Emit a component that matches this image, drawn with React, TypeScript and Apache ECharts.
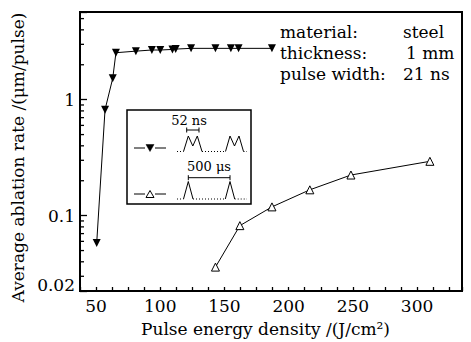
import React, { useEffect, useRef } from 'react';
import * as echarts from 'echarts';

// Series 1: 52 ns burst (filled down-triangles)
const burstX = [50.5, 57, 63, 65.5, 81, 93.5, 100, 109.5, 112, 124, 143, 155, 161, 187];
const burstY = [0.058, 0.82, 1.53, 2.54, 2.62, 2.68, 2.68, 2.71, 2.73, 2.77, 2.77, 2.77, 2.77, 2.77];
// Series 2: 500 µs single pulses (open up-triangles)
const singleX = [143, 162, 187, 216.5, 248.5, 310];
const singleY = [0.036, 0.082, 0.119, 0.167, 0.224, 0.294];

const xMin = 37.5;
const xMax = 335;
const xStep = 12.5;
const yMin = 0.0224;
const yMax = 5.7;
const yTickLabels = ['0.02', '0.1', '1'];
const yMinorTicks = [0.03, 0.04, 0.05, 0.06, 0.07, 0.08, 0.09, 0.2, 0.3, 0.4, 0.5, 0.6, 0.7, 0.8, 0.9, 2, 3, 4, 5];
const infoLabels = ['material:', 'thickness:', 'pulse width:'];
const infoValues = ['steel', '1 mm', '21 ns'];
const legendTexts = ['52 ns', '500 μs'];
const xName = 'Pulse energy density /(J/cm²)';
const yName = 'Average ablation rate /(μm/pulse)';

const FONT = "'DejaVu Serif', serif";

export default function App() {
  const ref = useRef<HTMLDivElement>(null);
  useEffect(() => {
    document.body.style.margin = '0';
    const chart = echarts.init(ref.current!, null, { renderer: 'svg' });
    const option: any = {
      animation: false,
      backgroundColor: '#fff',
      grid: { left: 80, right: 9, top: 12, bottom: 49, show: true, borderColor: '#000', borderWidth: 2 },
      xAxis: {
        type: 'value', min: xMin, max: xMax, interval: xStep,
        name: xName, nameLocation: 'middle', nameGap: 29,
        nameTextStyle: { fontFamily: FONT, fontSize: 17, color: '#000', padding: [0, 11, 0, 0] },
        axisLine: { lineStyle: { color: '#000', width: 2 } },
        axisTick: { inside: true, length: 4, lineStyle: { color: '#000', width: 1.3 } },
        splitLine: { show: false },
        axisLabel: {
          fontFamily: FONT, fontSize: 17, color: '#000', margin: 6,
          formatter: (v: number) => (Math.abs(v % 50) < 1e-9 ? String(v) : ''),
        },
      },
      yAxis: {
        type: 'log', logBase: 10, min: yMin, max: yMax,
        name: yName, nameLocation: 'middle', nameGap: 45,
        nameTextStyle: { fontFamily: FONT, fontSize: 17, color: '#000', padding: [0, 12, 0, 0] },
        axisLine: { lineStyle: { color: '#000', width: 2 } },
        axisTick: { inside: true, length: 7, lineStyle: { color: '#000', width: 1.3 } },
        splitLine: { show: false },
        minorTick: { show: false },
        axisLabel: {
          fontFamily: FONT, fontSize: 17, color: '#000', margin: 5,
          showMinLabel: true, showMaxLabel: true,
          formatter: (v: number) => {
            if (Math.abs(v - yMin) < 1e-6) return '{low|' + yTickLabels[0] + '}';
            if (Math.abs(v - 0.1) < 1e-9) return yTickLabels[1];
            if (Math.abs(v - 1) < 1e-9) return yTickLabels[2];
            return '';
          },
          rich: { low: { fontFamily: FONT, fontSize: 17, color: '#000', padding: [0, 0, 12, 0] } },
        },
      },
      series: [
        {
          name: legendTexts[0], type: 'line',
          data: burstX.map((x, i) => [x, burstY[i]]),
          symbol: 'triangle', symbolRotate: 180, symbolSize: 8,
          lineStyle: { color: '#000', width: 1 },
          itemStyle: { color: '#000' },
        },
        {
          name: legendTexts[1], type: 'line',
          data: singleX.map((x, i) => [x, singleY[i]]),
          symbol: 'triangle', symbolSize: 8,
          lineStyle: { color: '#000', width: 1 },
          itemStyle: { color: '#fff', borderColor: '#000', borderWidth: 1 },
        },
      ],
    };
    chart.setOption(option);

    const gx = chart.convertToPixel({ xAxisIndex: 0 }, xMin) as number;
    const tickEls = yMinorTicks.map((v) => {
      const y = chart.convertToPixel({ yAxisIndex: 0 }, v) as number;
      return {
        type: 'line', silent: true,
        shape: { x1: gx, y1: y, x2: gx + 4, y2: y },
        style: { stroke: '#000', lineWidth: 1.3 },
      };
    });

    const solid = { stroke: '#000', lineWidth: 1, fill: 'none' };
    const dotted = { stroke: '#000', lineWidth: 1, lineDash: [1, 2], fill: 'none' };
    const line = (x1: number, y1: number, x2: number, y2: number, style: any = solid) => ({
      type: 'line', silent: true, shape: { x1, y1, x2, y2 }, style,
    });
    const poly = (points: number[][]) => ({ type: 'polyline', silent: true, shape: { points }, style: solid });

    const b1 = 151.5, p1 = 136, v1 = 146;
    const b2 = 199, p2 = 181.5;

    const legendEls: any[] = [
      { type: 'rect', z: 10, shape: { x: 127, y: 110, width: 124, height: 94 }, style: { fill: '#fff', stroke: '#000', lineWidth: 1.5 } },
      // row 1 icon
      line(134, 148, 145, 148), line(155, 148, 166, 148),
      { type: 'polygon', z: 11, shape: { points: [[146, 144.5], [154, 144.5], [150, 151.5]] }, style: { fill: '#000', stroke: '#000', lineWidth: 0.5 } },
      // row 2 icon
      line(134, 194, 145, 194), line(155, 194, 166, 194),
      { type: 'polygon', z: 11, shape: { points: [[146, 197.5], [154, 197.5], [150, 190.5]] }, style: { fill: '#fff', stroke: '#000', lineWidth: 1 } },
      // row 1 pulses
      poly([[183.5, b1], [188.3, p1], [192.8, v1], [197.3, p1], [202, b1]]),
      poly([[225.5, b1], [230, p1], [234.5, v1], [239, p1], [243.5, b1]]),
      line(177, b1, 183.5, b1, dotted), line(202, b1, 225.5, b1, dotted), line(243.5, b1, 247, b1, dotted),
      // row 1 bracket
      line(186.7, 130, 199, 130), line(186.7, 127.5, 186.7, 132.5), line(199, 127.5, 199, 132.5),
      { type: 'text', z: 11, style: { text: legendTexts[0], x: 189, y: 120, align: 'center', verticalAlign: 'middle', fontFamily: FONT, fontSize: 13, fill: '#000' } },
      // row 2 pulses
      poly([[183.5, b2], [188.3, p2], [193, b2]]),
      poly([[225.3, b2], [230, p2], [234.7, b2]]),
      line(177, b2, 183.5, b2, dotted), line(193, b2, 225.3, b2, dotted), line(234.7, b2, 247, b2, dotted),
      // row 2 bracket
      line(188.3, 177.7, 230, 177.7), line(188.3, 175.2, 188.3, 180.2), line(230, 175.2, 230, 180.2),
      { type: 'text', z: 11, style: { text: legendTexts[1], x: 209, y: 166.5, align: 'center', verticalAlign: 'middle', fontFamily: FONT, fontSize: 13, fill: '#000' } },
    ].map((e) => ({ z: 11, ...e }));

    const infoEls: any[] = [];
    const rowsY = [32, 53, 74];
    const valX = [403, 406, 403];
    infoLabels.forEach((t, i) => {
      infoEls.push({ type: 'text', z: 11, style: { text: t, x: 280, y: rowsY[i], verticalAlign: 'middle', fontFamily: FONT, fontSize: 17, fill: '#000' } });
      infoEls.push({ type: 'text', z: 11, style: { text: infoValues[i], x: valX[i], y: rowsY[i], verticalAlign: 'middle', fontFamily: FONT, fontSize: 17, fill: '#000' } });
    });

    chart.setOption({ graphic: [...tickEls, ...legendEls, ...infoEls] });
    return () => chart.dispose();
  }, []);
  return <div ref={ref} style={{ width: 471, height: 342 }} />;
}
